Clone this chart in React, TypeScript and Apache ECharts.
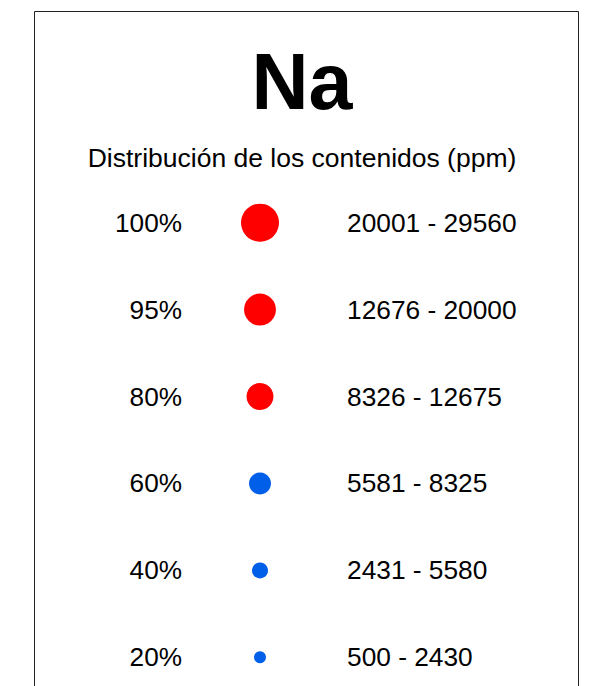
import React, { useEffect, useRef } from "react";
import * as echarts from "echarts";

const element = "Na";
const subtitle = "Distribución de los contenidos (ppm)";
const percentiles = ["100%", "95%", "80%", "60%", "40%", "20%"];
const ranges = [
  "20001 - 29560",
  "12676 - 20000",
  "8326 - 12675",
  "5581 - 8325",
  "2431 - 5580",
  "500 - 2430",
];
const symbolDiameters = [38, 32, 27, 22, 16, 12];
const classColors = ["#FF0000", "#FF0000", "#FF0000", "#005FE8", "#005FE8", "#005FE8"];

const FONT = "'Liberation Sans', Arial, Helvetica, sans-serif";

export default function App() {
  const ref = useRef<HTMLDivElement>(null);
  useEffect(() => {
    if (!ref.current) return;
    const chart = echarts.init(ref.current, undefined, { renderer: "svg" });
    chart.setOption({
      animation: false,
      backgroundColor: "#ffffff",
      title: {
        text: element,
        subtext: subtitle,
        left: 302,
        top: 42,
        padding: 0,
        textAlign: "center",
        itemGap: 23,
        textStyle: { fontFamily: FONT, fontSize: 79, fontWeight: "bold", color: "#000" },
        subtextStyle: { fontFamily: FONT, fontSize: 26.5, color: "#000" },
      },
      graphic: [
        {
          type: "rect",
          shape: { x: 34.5, y: 11.5, width: 544, height: 720 },
          style: { fill: "none", stroke: "#222", lineWidth: 1 },
          silent: true,
        },
      ],
      grid: { left: 182, top: 222.7, width: 156, height: 434.6, containLabel: false },
      xAxis: { type: "value", min: 0, max: 2, show: false },
      yAxis: [
        {
          type: "category",
          data: percentiles,
          inverse: true,
          boundaryGap: false,
          position: "left",
          axisLine: { show: false },
          axisTick: { show: false },
          splitLine: { show: false },
          axisLabel: { margin: 0, fontFamily: FONT, fontSize: 26.2, color: "#000" },
        },
        {
          type: "category",
          data: ranges,
          inverse: true,
          boundaryGap: false,
          position: "right",
          axisLine: { show: false },
          axisTick: { show: false },
          splitLine: { show: false },
          axisLabel: { margin: 9, fontFamily: FONT, fontSize: 26.3, color: "#000" },
        },
      ],
      series: [
        {
          type: "scatter",
          yAxisIndex: 0,
          data: percentiles.map((p, i) => ({
            value: [1, p],
            symbolSize: symbolDiameters[i],
            itemStyle: { color: classColors[i], opacity: 1 },
          })),
          symbol: "circle",
          silent: true,
        },
      ],
    });
    return () => chart.dispose();
  }, []);
  return (
    <div
      ref={ref}
      style={{ position: "absolute", left: 0, top: 0, width: 610, height: 686 }}
    />
  );
}
